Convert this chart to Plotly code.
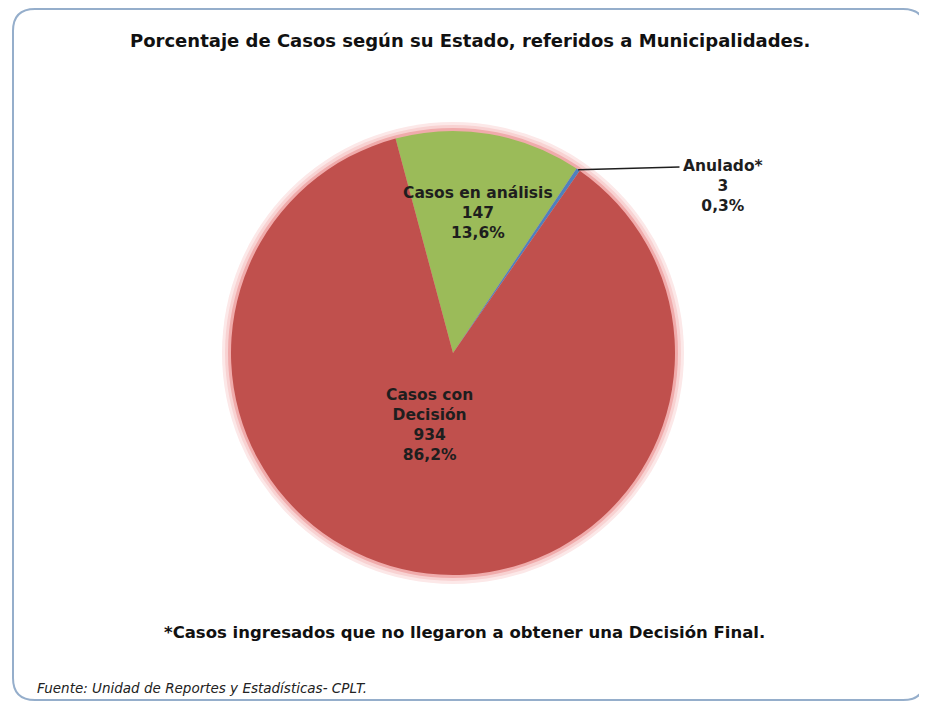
import math
import plotly.graph_objects as go

# ---- data ----
labels = ["Casos en análisis", "Anulado*", "Casos con Decisión"]
display = ["Casos en análisis", "Anulado*", "Casos con<br>Decisión"]
values = [147, 3, 934]
colors = ["#9BBB59", "#4F81BD", "#C0504D"]
title_text = "Porcentaje de Casos según su Estado, referidos a Municipalidades."
note_text = "*Casos ingresados que no llegaron a obtener una Decisión Final."
source_text = "Fuente: Unidad de Reportes y Estadísticas- CPLT."

OFF = 8                      # page body margin in the browser
W, H = 927 - OFF, 702 - OFF  # figure size
cx, cy, r = 453, 353, 222    # pie centre / radius in page pixels
rotation = -15

font_family = "DejaVu Sans, sans-serif"
txt_col = "#1E1E1E"

def px_x(x):
    return (x - OFF) / W

def px_y(y):
    return 1 - (y - OFF) / H

total = sum(values)

def pct_str(v):
    return f"{v / total * 100:.1f}%".replace(".", ",")

def label_text(i):
    return f"<b>{display[i]}<br>{values[i]}<br>{pct_str(values[i])}</b>"

fig = go.Figure()

fig.add_trace(go.Pie(
    labels=labels,
    values=values,
    sort=False,
    direction="clockwise",
    rotation=rotation,
    marker=dict(colors=colors, line=dict(color="rgba(0,0,0,0)", width=0)),
    textinfo="none",
    showlegend=False,
    hoverinfo="label+value+percent",
    domain=dict(x=[px_x(cx - r), px_x(cx + r)], y=[px_y(cy + r), px_y(cy - r)]),
))

# glow rings behind the pie
for extra, col in [(9, "#FCE8E8"), (6, "#F8D2D2"), (3, "#F0ABAB")]:
    fig.add_shape(type="circle", xref="paper", yref="paper", layer="below",
                  x0=px_x(cx - r - extra), x1=px_x(cx + r + extra),
                  y0=px_y(cy + r + extra), y1=px_y(cy - r - extra),
                  line=dict(width=0), fillcolor=col)

# rounded border
x0, x1, y0, y1 = px_x(13), px_x(925), px_y(700), px_y(9)
rx, ry = 22 / W, 22 / H
path = (f"M {x0+rx},{y1} L {x1-rx},{y1} Q {x1},{y1} {x1},{y1-ry} "
        f"L {x1},{y0+ry} Q {x1},{y0} {x1-rx},{y0} L {x0+rx},{y0} "
        f"Q {x0},{y0} {x0},{y0+ry} L {x0},{y1-ry} Q {x0},{y1} {x0+rx},{y1} Z")
fig.add_shape(type="path", xref="paper", yref="paper", path=path,
              line=dict(color="#95AECB", width=2), fillcolor="rgba(0,0,0,0)", layer="below")

lab_font = dict(family=font_family, size=15.5, color=txt_col)

# slice labels
fig.add_annotation(x=px_x(478), y=px_y(213), xref="paper", yref="paper", showarrow=False,
                   xanchor="center", yanchor="middle", text=label_text(0),
                   font=lab_font, align="center")
fig.add_annotation(x=px_x(429), y=px_y(425), xref="paper", yref="paper", showarrow=False,
                   xanchor="center", yanchor="middle", text=label_text(2),
                   font=lab_font, align="center")

# leader line + label for the tiny slice
mid_val = values[0] + values[1] / 2
ang = math.radians(rotation + 360 * mid_val / total)
ex = cx + r * math.sin(ang)
ey = cy - r * math.cos(ang)
lx, ly = 681, 167
fig.add_annotation(
    x=px_x(ex), y=px_y(ey), xref="paper", yref="paper",
    ax=lx - ex, ay=ly - ey, axref="pixel", ayref="pixel", text="",
    showarrow=True, arrowhead=0, arrowwidth=1.5, arrowcolor=txt_col, standoff=0,
)
fig.add_annotation(x=px_x(723), y=px_y(186), xref="paper", yref="paper", showarrow=False,
                   xanchor="center", yanchor="middle", text=label_text(1),
                   font=lab_font, align="center")

fig.add_annotation(x=px_x(470), y=px_y(40), xref="paper", yref="paper", showarrow=False,
                   xanchor="center", yanchor="middle",
                   text=f"<b>{title_text}</b>", font=dict(family=font_family, size=18, color="#111111"))
fig.add_annotation(x=px_x(464), y=px_y(632), xref="paper", yref="paper", showarrow=False,
                   xanchor="center", yanchor="middle",
                   text=f"<b>{note_text}</b>", font=dict(family=font_family, size=16.5, color="#111111"))
fig.add_annotation(x=px_x(35), y=px_y(688), xref="paper", yref="paper", showarrow=False,
                   xanchor="left", yanchor="middle", text=f"<i>{source_text}</i>",
                   font=dict(family=font_family, size=13.5, color="#222222"))

fig.update_layout(
    width=W, height=H,
    margin=dict(l=0, r=0, t=0, b=0),
    paper_bgcolor="white",
    separators=",.",
)

fig.write_html("out.html")
